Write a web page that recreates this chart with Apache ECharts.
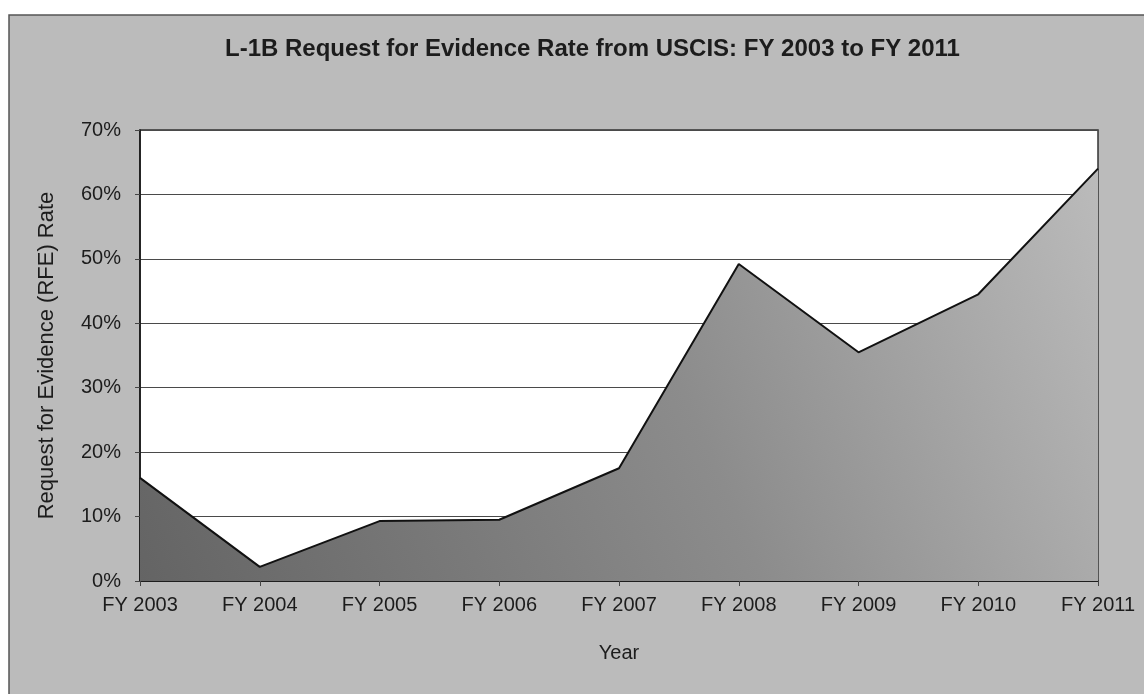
<!DOCTYPE html>
<html>
<head>
<meta charset="utf-8">
<script src="https://cdn.jsdelivr.net/npm/echarts@6/dist/echarts.min.js"></script>
<style>
html,body{margin:0;padding:0;background:#fff;}
#c{width:1144px;height:694px;}
</style>
</head>
<body>
<div id="c"></div>
<script>
const categories = ['FY 2003','FY 2004','FY 2005','FY 2006','FY 2007','FY 2008','FY 2009','FY 2010','FY 2011'];
const rfeRate = [16.0, 2.2, 9.3, 9.5, 17.5, 49.2, 35.5, 44.5, 64.0];
const yTicks = [0, 10, 20, 30, 40, 50, 60, 70];

const chart = echarts.init(document.getElementById('c'), null, {renderer:'canvas'});
const font = 'Liberation Sans, Arial, sans-serif';
chart.setOption({
  backgroundColor: '#ffffff',
  animation: false,
  graphic: [{
    type: 'rect', z: -10, silent: true,
    shape: {x: 9, y: 15, width: 1150, height: 700},
    style: {fill: '#bbbbbb', stroke: '#555', lineWidth: 1.5}
  }],
  title: {
    text: 'L-1B Request for Evidence Rate from USCIS: FY 2003 to FY 2011',
    left: 220, top: 32,
    textStyle: {fontFamily: font, fontSize: 24, fontWeight: 'bold', color: '#1c1c1c'}
  },
  grid: {
    left: 140, right: 46, top: 130, bottom: 113,
    show: true, backgroundColor: '#ffffff', borderColor: '#333', borderWidth: 1.5
  },
  xAxis: {
    type: 'category', data: categories, boundaryGap: false,
    name: 'Year', nameLocation: 'middle', nameGap: 62,
    nameTextStyle: {fontFamily: font, fontSize: 20, color: '#1c1c1c'},
    axisLine: {lineStyle: {color: '#111', width: 1.5}},
    axisTick: {show: true, inside: false, length: 5, lineStyle: {color: '#444'}},
    axisLabel: {fontFamily: font, fontSize: 20, color: '#1c1c1c', margin: 14, interval: 0},
    splitLine: {show: false}
  },
  yAxis: {
    type: 'value', min: yTicks[0], max: yTicks[yTicks.length-1], interval: 10,
    name: 'Request for Evidence (RFE) Rate', nameLocation: 'middle', nameGap: 82,
    nameTextStyle: {fontFamily: font, fontSize: 22, color: '#1c1c1c'},
    axisLine: {show: true, lineStyle: {color: '#111', width: 1.5}},
    axisTick: {show: true, inside: false, length: 5, lineStyle: {color: '#444'}},
    axisLabel: {fontFamily: font, fontSize: 20, color: '#1c1c1c', margin: 19, formatter: '{value}%'},
    splitLine: {show: true, lineStyle: {color: '#4a4a4a', width: 1}}
  },
  series: [{
    type: 'line', data: rfeRate, symbol: 'none', smooth: false,
    lineStyle: {color: '#111', width: 2},
    areaStyle: {
      opacity: 1,
      color: new echarts.graphic.LinearGradient(0, 1, 1, 0, [
        {offset: 0, color: '#646464'},
        {offset: 0.55, color: '#8c8c8c'},
        {offset: 1, color: '#bbbbbb'}
      ])
    }
  }]
});
</script>
</body>
</html>
